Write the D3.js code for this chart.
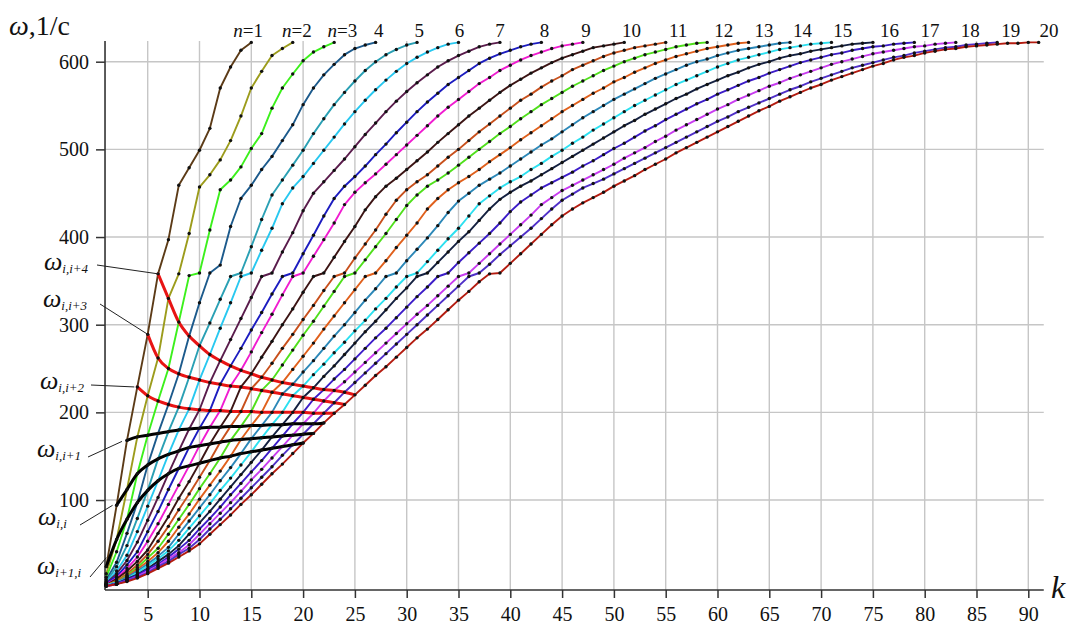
<!DOCTYPE html>
<html><head><meta charset="utf-8">
<script src="https://cdn.jsdelivr.net/npm/d3@7"></script>
<style>body{margin:0;background:#fff}svg{display:block}text{font-family:"Liberation Serif","DejaVu Serif",serif}</style>
</head><body>
<svg id="c" width="1074" height="630"></svg>
<script>
// ---------- data ----------
const kTicks = [5,10,15,20,25,30,35,40,45,50,55,60,65,70,75,80,85,90];
const wTicks = [100,200,300,400,500,600];
const curveLabels = ["1","2","3","4","5","6","7","8","9","10","11","12","13","14","15","16","17","18","19","20"];
const labelK = [14.7,19.4,23.8,27.3,31.2,35.1,39.0,43.3,47.3,51.7,56.2,60.6,64.5,68.2,72.1,76.6,80.5,84.4,88.3,92.0];
const colors = ["#5c3b17","#9c9c1c","#3cf01c","#1c5a8c","#2aa0b4","#28c8f0","#5a1c4c","#1c1cc0","#f01cd0","#3c1414",
                "#c8501c","#50e01c","#e0601c","#2c88b8","#2ce0f0","#142040","#3c1cc8","#c83cf0","#5030c8","#b41c10"];
const w1 = [24,94,168,229,289,358,397,459,479,499,524,570,594,613,622];
const w2 = [16,55,112,172,219,262,330,358,404,457,471,488,510,538,570,589,607,615,622];
const w3 = [12,41,78,130,174,213,250,303,356,359,408,454,465,480,501,518,547,570,586,601,611,617,622];
const w4 = [9,29,62,97,140,176,209,244,287,325,359,368,412,444,459,477,492,510,528,551,570,585,597,608,615,619,622];
const w5 = [7,24,48,79,111,147,178,206,240,276,302,329,355,359,389,420,448,465,482,499,518,535,551,565,578,590,600,608,614,619,622];
const w6 = [6,19,37,64,93,122,152,180,204,237,266,296,325,355,359,385,410,438,456,469,484,499,514,529,543,556,568,579,589,598,605,611,616,620,622];
const w7 = [5,16,31,52,77,103,130,156,181,203,234,259,283,307,331,355,359,383,405,430,450,463,476,489,503,517,530,543,555,566,576,585,594,601,607,612,617,620,622];
const w8 = [5,13,26,41,64,87,112,136,160,182,202,232,253,273,294,314,335,355,359,381,402,424,444,458,469,481,494,506,519,531,543,554,564,574,582,590,598,604,609,613,617,620,622];
const w9 = [4,11,22,35,53,73,95,117,139,162,183,202,230,248,269,291,312,334,355,359,378,397,416,437,451,462,472,483,494,505,516,527,538,548,557,566,575,582,590,596,602,607,611,615,618,620,622];
const w10 = [3,10,19,30,43,62,81,102,121,142,164,183,201,229,244,263,281,300,318,337,355,359,377,395,412,431,446,458,467,477,487,497,508,518,528,538,547,556,565,573,580,587,593,599,604,608,612,616,618,620,622];
const w11 = [3,8,16,26,38,53,70,89,107,126,145,166,184,201,227,240,256,273,289,306,322,339,355,359,376,392,408,426,442,454,463,471,481,491,500,510,520,529,538,547,556,563,571,578,584,591,596,601,606,610,613,616,618,620,622];
const w12 = [3,7,14,23,34,45,61,78,95,113,130,148,168,184,201,225,237,254,271,288,304,321,338,355,359,374,389,404,420,436,448,458,465,473,482,491,500,509,518,526,535,543,551,558,565,572,578,584,590,595,600,604,608,611,614,617,619,621,622];
const w13 = [3,7,13,21,30,40,53,69,84,101,117,133,150,169,185,200,223,234,249,264,279,295,310,325,340,355,359,373,388,402,416,432,444,454,462,469,477,486,494,502,511,519,527,535,543,550,557,564,570,577,582,588,593,598,602,606,609,612,615,617,619,621,622];
const w14 = [3,6,12,19,27,36,46,61,76,91,106,122,137,153,170,185,200,221,232,246,259,273,287,300,314,328,341,355,359,373,386,399,413,428,441,450,459,466,473,481,489,497,505,512,520,528,536,543,550,557,563,569,575,581,586,591,596,600,603,607,610,613,615,617,619,621,622];
const w15 = [3,6,10,17,25,33,42,54,68,82,96,111,125,140,155,171,186,200,219,230,243,255,268,280,293,305,318,330,343,355,359,372,385,398,410,424,438,447,456,463,469,477,484,492,499,507,514,522,529,536,543,550,556,562,568,574,579,584,589,594,598,602,605,608,611,614,616,618,620,621,622];
const w16 = [2,5,10,15,22,30,38,48,61,74,87,101,115,129,143,157,172,186,200,217,228,241,253,266,279,292,304,317,330,342,355,359,371,383,395,406,419,432,443,451,458,464,471,478,485,492,499,506,513,520,527,533,540,546,552,558,563,569,574,579,584,588,593,597,600,604,607,609,612,614,616,618,620,621,622];
const w17 = [2,5,9,14,21,27,35,44,54,67,79,92,106,119,132,145,159,173,187,200,215,226,238,249,261,273,285,296,308,320,332,343,355,359,371,382,393,404,416,429,440,448,456,462,468,474,481,487,494,501,507,514,521,527,534,540,546,552,557,563,568,573,578,582,587,591,595,599,602,605,608,610,613,615,617,618,620,621,622];
const w18 = [2,4,8,13,19,25,33,40,49,61,73,85,97,110,123,135,148,161,174,187,199,213,225,235,246,257,268,279,290,301,312,322,333,344,355,359,370,381,392,403,414,425,437,445,453,459,465,471,477,483,490,496,502,509,515,522,528,534,540,546,551,557,562,567,572,576,581,585,589,593,597,600,603,606,609,611,613,615,617,618,620,621,622];
const w19 = [2,4,8,12,17,24,30,38,45,55,67,78,90,102,114,126,138,151,163,175,187,199,211,223,234,245,256,267,278,289,300,311,322,333,344,355,359,369,380,390,400,410,421,432,442,449,456,461,466,472,478,484,490,496,502,508,514,520,526,532,537,543,548,553,558,563,568,572,577,581,585,589,593,596,599,602,605,607,610,612,614,616,617,619,620,621,622];
const w20 = [2,4,7,11,16,22,28,35,42,50,61,72,83,95,106,118,130,141,153,165,176,188,199,209,220,231,242,252,263,274,285,295,306,317,328,338,349,358,359,370,381,392,403,414,424,432,439,445,451,458,464,470,477,483,489,496,502,508,514,520,526,532,538,544,549,555,560,565,570,574,579,583,587,591,595,598,602,605,607,610,612,614,615,617,618,619,620,621,621,622,622];
const series = [w1,w2,w3,w4,w5,w6,w7,w8,w9,w10,w11,w12,w13,w14,w15,w16,w17,w18,w19,w20];
// families ω: point of curve n taken at k = n + offset
const familyOffsets = [0,1,2,3,4,5];
const familySubs = ["i+1,i","i,i","i,i+1","i,i+2","i,i+3","i,i+4"];
const familyColors = ["#000","#000","#000","#e81414","#e81414","#e81414"];

// ---------- layout ----------
const svg = d3.select("#c");
const x = d3.scaleLinear().domain([0,90]).range([95.9,1028.3]);
const y = d3.scaleLinear().domain([0,600]).range([587.7,61.7]);
const kMin = 0.88, kMax = 91.3, wMin = -2.6, wMax = 623.5;
const X0 = x(kMin), Y0 = y(wMin);

// grid
const g = svg.append("g").attr("stroke","#c6c6c6").attr("stroke-width",1.4);
g.selectAll("line.v").data(kTicks).join("line")
  .attr("x1",d=>x(d)).attr("x2",d=>x(d)).attr("y1",y(wMax)).attr("y2",Y0);
g.selectAll("line.h").data(wTicks).join("line")
  .attr("x1",X0).attr("x2",x(kMax)+2).attr("y1",d=>y(d)).attr("y2",d=>y(d));

// axes
const xa = svg.append("g").attr("transform",`translate(0,${Y0})`)
  .call(d3.axisBottom(x).tickValues(kTicks).tickSize(8).tickSizeOuter(0).tickPadding(9));
xa.select(".domain").remove();
xa.selectAll("text").attr("font-size",20).attr("fill","#111").style("font-family","Liberation Serif");
xa.selectAll("line").attr("stroke","#333").attr("stroke-width",1.5);
const ya = svg.append("g").attr("transform",`translate(${X0},0)`)
  .call(d3.axisLeft(y).tickValues(wTicks).tickSize(9).tickSizeOuter(0).tickPadding(7));
ya.select(".domain").remove();
ya.selectAll("text").attr("font-size",20).attr("fill","#111").style("font-family","Liberation Serif");
ya.selectAll("line").attr("stroke","#333").attr("stroke-width",1.5);
svg.append("line").attr("x1",X0).attr("x2",x(kMax)+2).attr("y1",Y0).attr("y2",Y0).attr("stroke","#333").attr("stroke-width",1.6);
svg.append("line").attr("x1",X0).attr("x2",X0).attr("y1",y(wMax)).attr("y2",Y0).attr("stroke","#333").attr("stroke-width",1.6);

// curves
const line = d3.line().x((d,i)=>x(i+1)).y(d=>y(d));
svg.append("g").selectAll("path").data(series).join("path")
  .attr("d",d=>line(d)).attr("fill","none")
  .attr("stroke",(d,i)=>colors[i]).attr("stroke-width",1.9).attr("stroke-linejoin","round");

// families
const famLine = d3.line().x(d=>x(d[0])).y(d=>y(d[1])).curve(d3.curveMonotoneX);
const famData = familyOffsets.map(m => series.map((s,i)=>{const n=i+1; const k=n+m; return [k, s[k-1]];}));
svg.append("g").selectAll("path").data(famData).join("path")
  .attr("d",d=>famLine(d)).attr("fill","none")
  .attr("stroke",(d,i)=>familyColors[i]).attr("stroke-width",3).attr("stroke-linecap","round");

// dots
const dg = svg.append("g").attr("fill","#111");
series.forEach(s=>{
  dg.selectAll(null).data(s).join("circle")
    .attr("cx",(d,i)=>x(i+1)).attr("cy",d=>y(d)).attr("r",1.7);
});

// curve labels at top
const lab = svg.append("g").attr("font-size",19).attr("fill","#111").attr("text-anchor","middle");
curveLabels.forEach((t,i)=>{
  const tx = lab.append("text").attr("x",x(labelK[i])).attr("y",37);
  if(i<3){ tx.append("tspan").attr("font-style","italic").text("n"); tx.append("tspan").text("="+t); }
  else tx.text(t);
});

// family labels with leader lines
const famLab = [
  {tx:37, ty:574, lx:90, ly:577},
  {tx:38, ty:525, lx:80, ly:525},
  {tx:37, ty:457, lx:88, ly:457},
  {tx:40, ty:389, lx:91, ly:385},
  {tx:43, ty:307, lx:100, ly:304},
  {tx:44, ty:270, lx:97, ly:265}
];
const endOff = [[0,-9],[-4,0],[-5,1],[-3,0],[0,0],[0,0]];
famLab.forEach((p,m)=>{
  const pt = famData[m][0];
  svg.append("line").attr("x1",p.lx).attr("y1",p.ly)
    .attr("x2",x(pt[0])+endOff[m][0]).attr("y2",y(pt[1])+endOff[m][1])
    .attr("stroke","#222").attr("stroke-width",1);
  const t = svg.append("text").attr("x",p.tx).attr("y",p.ty).attr("fill","#111");
  t.append("tspan").attr("font-size",26).attr("font-style","italic").text("ω");
  t.append("tspan").attr("font-size",13).attr("font-style","italic").attr("dy",3).text(familySubs[m]);
});

// axis titles
svg.append("text").attr("x",9).attr("y",35).attr("font-size",28).attr("fill","#111")
  .html('<tspan font-style="italic">ω</tspan>,1/с');
svg.append("text").attr("x",1051).attr("y",598).attr("font-size",32).attr("font-style","italic").attr("fill","#111").text("k");
</script>
</body></html>
